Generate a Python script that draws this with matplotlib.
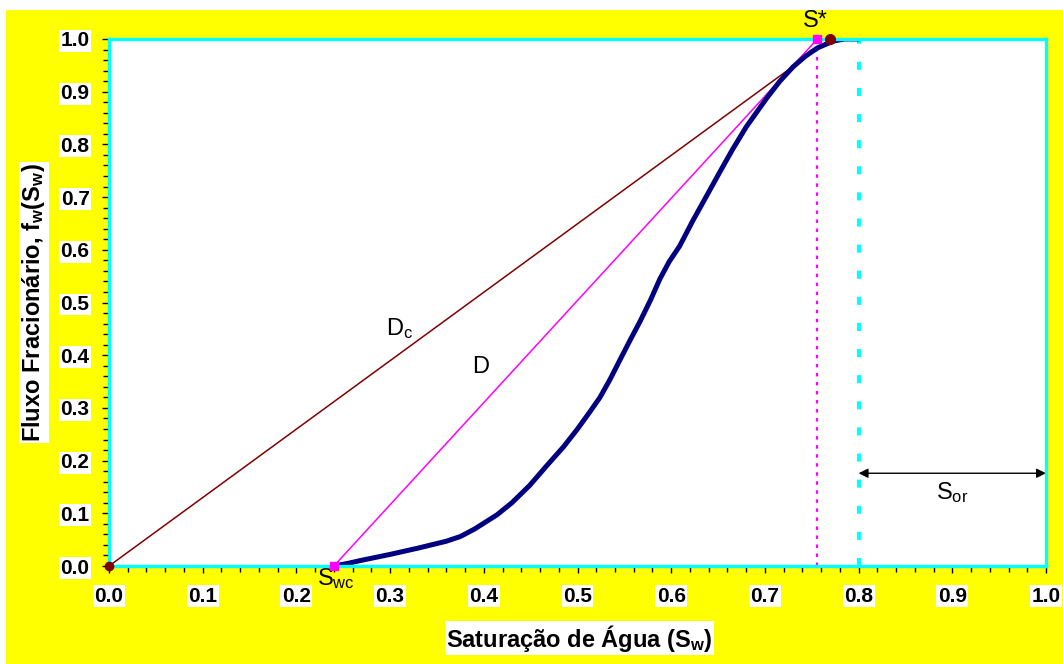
import matplotlib
matplotlib.use("Agg")
import matplotlib.pyplot as plt
from matplotlib.patches import Rectangle
from matplotlib.ticker import MultipleLocator, FormatStrFormatter

plt.rcParams['font.family'] = ['Liberation Sans', 'DejaVu Sans']
plt.rcParams['mathtext.default'] = 'regular'
plt.rcParams['lines.scale_dashes'] = False

# Fractional flow curve f_w(S_w)
sw = [0.240, 0.255, 0.270, 0.300, 0.330, 0.360, 0.375, 0.390, 0.414, 0.430,
      0.449, 0.467, 0.485, 0.500, 0.513, 0.524, 0.535, 0.545, 0.556, 0.567,
      0.578, 0.588, 0.598, 0.609, 0.623, 0.638, 0.652, 0.665, 0.680, 0.702,
      0.716, 0.730, 0.743, 0.756, 0.773, 0.785, 0.800]
fw = [0.000, 0.005, 0.011, 0.022, 0.034, 0.047, 0.056, 0.070, 0.097, 0.120,
      0.153, 0.190, 0.226, 0.260, 0.292, 0.320, 0.355, 0.390, 0.428, 0.465,
      0.505, 0.545, 0.578, 0.607, 0.655, 0.703, 0.748, 0.789, 0.833, 0.888,
      0.920, 0.947, 0.967, 0.983, 0.996, 1.000, 1.000]

# Tangent lines
dc_x = [0.0, 0.77]
dc_y = [0.0, 1.0]
d_x = [0.24, 0.756]
d_y = [0.0, 1.0]

swc = 0.24
s_star = 0.756
s_tan = 0.77
sw_max = 0.80

ticks = [0.0, 0.1, 0.2, 0.3, 0.4, 0.5, 0.6, 0.7, 0.8, 0.9, 1.0]

fig = plt.figure(figsize=(10.63, 6.64), dpi=100, facecolor='white')
bg = Rectangle((6 / 1063, 0), 1 - 6 / 1063, 1 - 10 / 664,
               transform=fig.transFigure, facecolor='#FFFF00',
               edgecolor='none', zorder=-10)
fig.patches.append(bg)
ax = fig.add_axes([109 / 1063, 1 - 566 / 664, (1046 - 109) / 1063, (566 - 39) / 664])
ax.set_zorder(1)
ax.set_facecolor('white')
ax.set_xlim(0, 1)
ax.set_ylim(0, 1)

# Lines
ax.plot(dc_x, dc_y, color='#800000', lw=1.1, zorder=3)
ax.plot(d_x, d_y, color='#FF00FF', lw=1.1, zorder=3)
ax.plot(sw, fw, color='#000080', lw=3.6, solid_capstyle='round',
        solid_joinstyle='round', zorder=4)
ax.plot([s_star, s_star], [0, 1], color='#FF00FF', lw=1.6,
        dashes=(2.5, 4.0), zorder=3)
ax.plot([sw_max, sw_max], [0, 1], color='#00FFFF', lw=3.0,
        dashes=(5.8, 13.0), zorder=3)

# Markers
ax.plot([0.0], [0.0], 'o', color='#800000', ms=6, clip_on=False, zorder=6)
ax.plot([s_tan], [1.0], 'o', color='#800000', ms=7, clip_on=False, zorder=6)
ax.plot([swc], [0.0], 's', color='#FF00FF', ms=6, clip_on=False, zorder=6)
ax.plot([s_star], [1.0], 's', color='#FF00FF', ms=6, clip_on=False, zorder=6)

# S_or arrow
ax.annotate('', xy=(1.0, 0.176), xytext=(sw_max, 0.176),
            arrowprops=dict(arrowstyle='<|-|>', color='black', lw=1.0,
                            mutation_scale=14, shrinkA=0, shrinkB=0))

tfs = 17
ax.text(0.9, 0.14, 'S$_{or}$', fontsize=tfs, ha='center', va='center')
ax.text(0.31, 0.45, 'D$_c$', fontsize=tfs, ha='center', va='center')
ax.text(0.397, 0.378, 'D', fontsize=tfs, ha='center', va='center')
ax.text(0.242, -0.024, 'S$_{wc}$', fontsize=tfs, ha='center', va='center',
        clip_on=False)
ax.text(0.754, 1.034, 'S*', fontsize=tfs, ha='center', va='center',
        clip_on=False)

# Axes styling
for sp in ax.spines.values():
    sp.set_color('#00FFFF')
    sp.set_linewidth(2.4)
    sp.set_zorder(5)

ax.set_xticks(ticks)
ax.set_yticks(ticks)
ax.xaxis.set_minor_locator(MultipleLocator(0.02))
ax.yaxis.set_minor_locator(MultipleLocator(0.02))
ax.xaxis.set_major_formatter(FormatStrFormatter('%.1f'))
ax.yaxis.set_major_formatter(FormatStrFormatter('%.1f'))
ax.tick_params(which='both', direction='out', color='black', width=1.0)
ax.tick_params(which='major', length=5)
ax.tick_params(which='minor', length=4)
ax.tick_params(axis='x', which='major', pad=10)
ax.tick_params(axis='y', which='major', pad=9)
for lbl in ax.get_xticklabels() + ax.get_yticklabels():
    lbl.set_fontsize(15)
    lbl.set_fontweight('bold')
    lbl.set_bbox(dict(facecolor='white', edgecolor='none', pad=1.0))

ax.set_xlabel('Saturação de Água (S$_w$)', fontsize=17, fontweight='bold',
              bbox=dict(facecolor='white', edgecolor='none', pad=1.0))
ax.set_ylabel('Fluxo Fracionário, f$_w$(S$_w$)', fontsize=17, fontweight='bold',
              bbox=dict(facecolor='white', edgecolor='none', pad=1.0))
ax.xaxis.set_label_coords(0.502, -0.108)
ax.yaxis.set_label_coords(-0.066, 0.5)

fig.savefig('out.png', dpi=100, facecolor=fig.get_facecolor())
